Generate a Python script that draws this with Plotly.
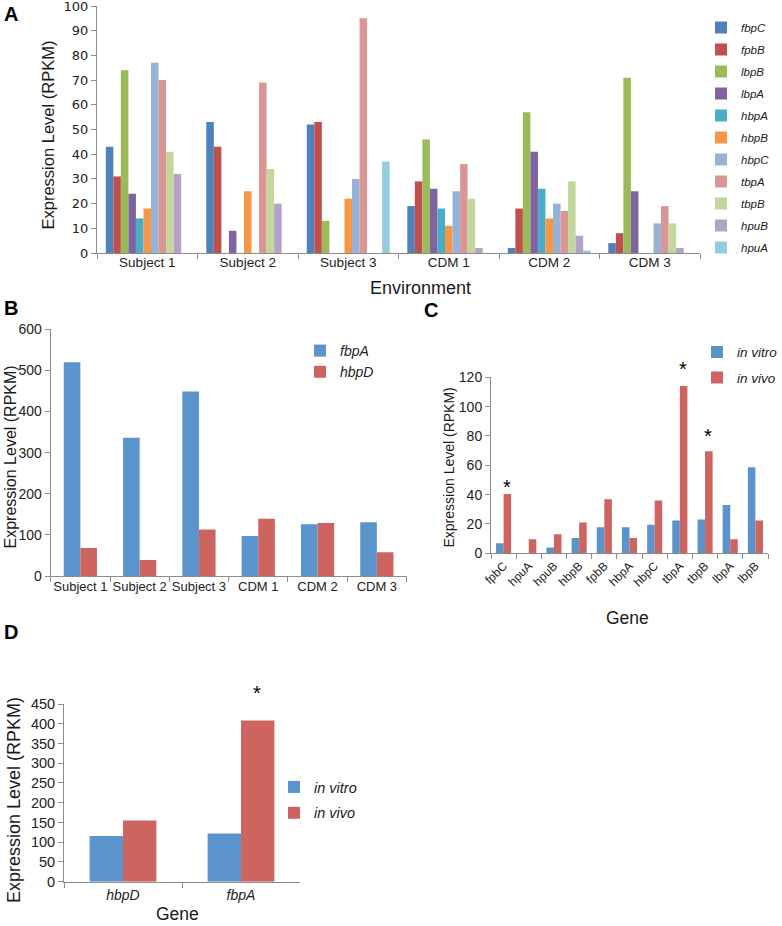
import plotly.graph_objects as go

W, H = 782, 926

# ---------------- Data ----------------
# Panel A
env_categories = ["Subject 1", "Subject 2", "Subject 3", "CDM 1", "CDM 2", "CDM 3"]
genes_a = ["fbpC", "fpbB", "lbpB", "lbpA", "hbpA", "hbpB", "hbpC", "tbpA", "tbpB", "hpuB", "hpuA"]
fbpC = [43, 53, 52, 19, 2, 4]
fpbB = [31, 43, 53, 29, 18, 8]
lbpB = [74, 0, 13, 46, 57, 71]
lbpA = [24, 9, 0, 26, 41, 25]
hbpA = [14, 0, 0, 18, 26, 0]
hbpB = [18, 25, 22, 11, 14, 0]
hbpC = [77, 0, 30, 25, 20, 12]
tbpA = [70, 69, 95, 36, 17, 19]
tbpB = [41, 34, 0, 22, 29, 12]
hpuB = [32, 20, 0, 2, 7, 2]
hpuA = [0, 0, 37, 0, 1, 0]
series_a = [fbpC, fpbB, lbpB, lbpA, hbpA, hbpB, hbpC, tbpA, tbpB, hpuB, hpuA]
colors_a = ["#4F81BD", "#C0504D", "#9BBB59", "#8064A2", "#4BACC6", "#F79646",
            "#95B3D7", "#D99694", "#C3D69B", "#B3A2C7", "#93CDDD"]

# Panel B
fbpA_env = [520, 336, 449, 97, 126, 131]
hbpD_env = [68, 39, 113, 139, 129, 58]

# Panel C
genes_c = ["fpbC", "hpuA", "hpuB", "hbpB", "fpbB", "hbpA", "hbpC", "tbpA", "tbpB", "lbpA", "lbpB"]
in_vitro_c = [6.8, 0, 4, 10.5, 17.7, 17.7, 19.5, 22.3, 23, 33, 58.6]
in_vivo_c = [40.5, 9.5, 13, 21, 36.8, 10.5, 36, 114, 69.5, 9.5, 22.3]
star_genes_c = ["fpbC", "tbpA", "tbpB"]

# Panel D
genes_d = ["hbpD", "fbpA"]
in_vitro_d = [115.7, 122]
in_vivo_d = [155, 408]
star_genes_d = ["fbpA"]

BLUE = "#5b93cc"
RED = "#cd6460"
AXC = "#8c8c8c"
FONT = "Liberation Sans, Arial, sans-serif"


def px_x(p):
    return p / W


def px_y(p):
    return 1 - p / H


fig = go.Figure()

# ---------- Panel A ----------
bw_a = 0.075
n = len(genes_a)
for i, (g, vals, c) in enumerate(zip(genes_a, series_a, colors_a)):
    fig.add_trace(go.Bar(
        x=env_categories, y=vals, name=g, marker=dict(color=c, line=dict(width=0)),
        width=bw_a, offset=-bw_a * n / 2 + i * bw_a,
        xaxis="x", yaxis="y", legend="legend", legendgroup="a" + g,
    ))

# ---------- Panel B ----------
bw_b = 0.28
fig.add_trace(go.Bar(x=env_categories, y=fbpA_env, name="fbpA", marker=dict(color=BLUE, line=dict(width=0)),
                     width=bw_b, offset=-bw_b, xaxis="x2", yaxis="y2", legend="legend2", legendgroup="b1"))
fig.add_trace(go.Bar(x=env_categories, y=hbpD_env, name="hbpD", marker=dict(color=RED, line=dict(width=0)),
                     width=bw_b, offset=0, xaxis="x2", yaxis="y2", legend="legend2", legendgroup="b2"))

# ---------- Panel C ----------
bw_c = 0.3
fig.add_trace(go.Bar(x=genes_c, y=in_vitro_c, name="in vitro", marker=dict(color=BLUE, line=dict(width=0)),
                     width=bw_c, offset=-bw_c, xaxis="x3", yaxis="y3", legend="legend3", legendgroup="c1"))
fig.add_trace(go.Bar(x=genes_c, y=in_vivo_c, name="in vivo", marker=dict(color=RED, line=dict(width=0)),
                     width=bw_c, offset=0, xaxis="x3", yaxis="y3", legend="legend3", legendgroup="c2"))

# ---------- Panel D ----------
bw_d = 0.283
fig.add_trace(go.Bar(x=genes_d, y=in_vitro_d, name="in vitro", marker=dict(color=BLUE, line=dict(width=0)),
                     width=bw_d, offset=-bw_d, xaxis="x4", yaxis="y4", legend="legend4", legendgroup="d1"))
fig.add_trace(go.Bar(x=genes_d, y=in_vivo_d, name="in vivo", marker=dict(color=RED, line=dict(width=0)),
                     width=bw_d, offset=0, xaxis="x4", yaxis="y4", legend="legend4", legendgroup="d2"))


def xaxis(domain, anchor, tickfont, standoff=0):
    return dict(domain=domain, anchor=anchor, type="category", showline=True, linecolor=AXC, linewidth=1,
                ticks="outside", tickson="boundaries", ticklen=5, tickcolor=AXC, showgrid=False,
                zeroline=False, tickfont=tickfont, fixedrange=True, ticklabelstandoff=standoff,
                ticklabeloverflow="allow")


def yaxis(domain, anchor, rng, dtick, tickfont):
    return dict(domain=domain, anchor=anchor, range=rng, dtick=dtick, showline=True, linecolor=AXC,
                linewidth=1, ticks="outside", ticklen=5, tickcolor=AXC, showgrid=False, zeroline=False,
                tickfont=tickfont, fixedrange=True, ticklabeloverflow="allow")


layout = dict(
    width=W, height=H, margin=dict(l=0, r=0, t=0, b=0, autoexpand=False),
    paper_bgcolor="white", plot_bgcolor="white",
    barmode="overlay", font=dict(family=FONT, color="#1a1a1a"),
    xaxis=xaxis([px_x(97), px_x(700)], "y", dict(family=FONT, size=13.5, color="#222"), standoff=-3),
    yaxis=yaxis([px_y(253), px_y(6)], "x", [0, 100], 10, dict(family="DejaVu Sans", size=13, color="#222")),
    xaxis2=dict(xaxis([px_x(50.7), px_x(406.5)], "y2", dict(family=FONT, size=13, color="#222"), standoff=-2),
                tickangle=0),
    yaxis2=yaxis([px_y(576), px_y(329.3)], "x2", [0, 600], 100, dict(family=FONT, size=14, color="#222")),
    xaxis3=dict(xaxis([px_x(491), px_x(768)], "y3", dict(family=FONT, size=12, color="#222")), tickangle=-45),
    yaxis3=yaxis([px_y(553.3), px_y(377.3)], "x3", [0, 120], 20, dict(family=FONT, size=14, color="#222")),
    xaxis4=dict(xaxis([px_x(64), px_x(300)], "y4", dict(family=FONT, size=14, color="#222", style="italic")),
                tickangle=0),
    yaxis4=yaxis([px_y(881.7), px_y(704)], "x4", [0, 450], 50, dict(family=FONT, size=14.5, color="#222")),
    legend=dict(x=px_x(701), y=px_y(13), xanchor="left", yanchor="top", tracegroupgap=3,
                font=dict(family=FONT, size=11.5, style="italic", color="#222"), bgcolor="rgba(0,0,0,0)"),
    legend2=dict(x=px_x(300), y=px_y(335), xanchor="left", yanchor="top", tracegroupgap=0,
                 font=dict(family=FONT, size=14, style="italic", color="#222"), bgcolor="rgba(0,0,0,0)"),
    legend3=dict(x=px_x(697), y=px_y(336.7), xanchor="left", yanchor="top", tracegroupgap=5,
                 font=dict(family=FONT, size=13.5, style="italic", color="#222"), bgcolor="rgba(0,0,0,0)"),
    legend4=dict(x=px_x(274), y=px_y(771), xanchor="left", yanchor="top", tracegroupgap=4,
                 font=dict(family=FONT, size=14.5, style="italic", color="#222"), bgcolor="rgba(0,0,0,0)"),
    showlegend=True,
)
fig.update_layout(**layout)

annotations = []
# Panel letters
for letter, (cx, cy) in {"A": (10.5, 14), "B": (10.5, 308), "C": (431, 310), "D": (10.5, 632)}.items():
    annotations.append(dict(text="<b>%s</b>" % letter, x=px_x(cx), y=px_y(cy), xref="paper", yref="paper",
                            showarrow=False, xanchor="center", yanchor="middle",
                            font=dict(family=FONT, size=20, color="black")))
# Y-axis titles
ytitle = "Expression Level (RPKM)"
for (cx, cy, size) in [(47.5, 135, 16.5), (10, 457.5, 16), (449, 467.5, 14), (14, 800, 18)]:
    annotations.append(dict(text=ytitle, x=px_x(cx), y=px_y(cy), xref="paper", yref="paper", textangle=-90,
                            showarrow=False, xanchor="center", yanchor="middle",
                            font=dict(family=FONT, size=size, color="#1a1a1a")))
# X-axis titles
for (txt, cx, cy, size) in [("Environment", 420, 288, 18), ("Gene", 627, 618, 17.5), ("Gene", 177.5, 914, 17.5)]:
    annotations.append(dict(text=txt, x=px_x(cx), y=px_y(cy), xref="paper", yref="paper",
                            showarrow=False, xanchor="center", yanchor="middle",
                            font=dict(family=FONT, size=size, color="#1a1a1a")))
# Significance asterisks
star_shift_c = {"fpbC": 7, "tbpA": 17, "tbpB": 15}
for g in star_genes_c:
    v = in_vivo_c[genes_c.index(g)]
    annotations.append(dict(text="*", x=g, y=v, xref="x3", yref="y3", showarrow=False,
                            xanchor="center", yanchor="middle", xshift=3, yshift=star_shift_c[g],
                            font=dict(family=FONT, size=20, color="black")))
for g in star_genes_d:
    v = in_vivo_d[genes_d.index(g)]
    annotations.append(dict(text="*", x=g, y=v, xref="x4", yref="y4", showarrow=False,
                            xanchor="center", yanchor="middle", xshift=16, yshift=28,
                            font=dict(family=FONT, size=20, color="black")))

fig.update_layout(annotations=annotations)
fig.write_html("out.html", config={"displayModeBar": False},
               post_script="document.body.style.margin='0px';document.body.style.overflow='hidden';")
